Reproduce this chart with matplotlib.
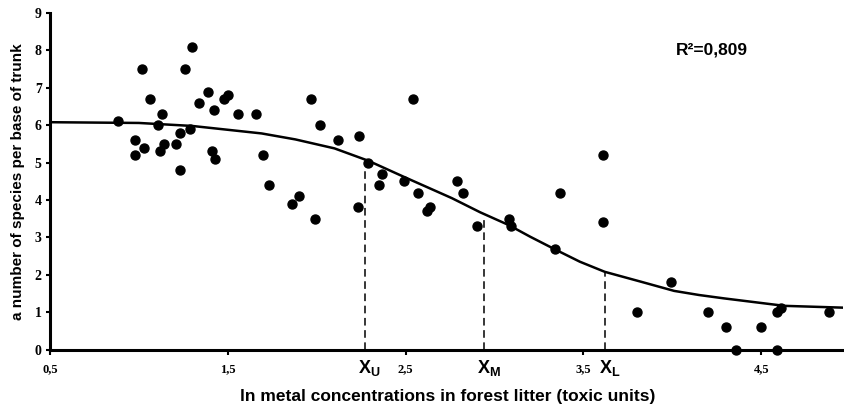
"""Species richness at the base of trunks against ln metal load in forest litter."""

import matplotlib
matplotlib.use("Agg")
import matplotlib.pyplot as plt

plt.rcParams["font.family"] = ["Liberation Sans", "DejaVu Sans"]
plt.rcParams["mathtext.fontset"] = "custom"
plt.rcParams["mathtext.rm"] = "Liberation Sans"
plt.rcParams["mathtext.bf"] = "Liberation Sans:bold"

# observed sites: ln toxic units vs species count
TOXIC_UNITS = [
    0.88, 1.30, 1.02, 1.26, 1.06, 1.39, 1.50, 1.48, 1.34, 1.42,
    1.56, 1.66, 1.13, 1.11, 1.23, 1.29, 0.98, 1.03, 0.98, 1.14,
    1.12, 1.21, 1.41, 1.43, 1.23, 1.70, 1.73, 1.86, 1.90, 1.99,
    2.23, 1.97, 2.54, 2.02, 2.12, 2.24, 2.29, 2.37, 2.35, 2.49,
    2.57, 2.79, 2.82, 2.64, 2.62, 2.90, 3.08, 3.09, 3.34, 3.37,
    3.61, 3.61, 3.99, 3.80, 4.20, 4.30, 4.50, 4.59, 4.61, 4.88,
    4.36, 4.59,
]
SPECIES = [
    6.1, 8.1, 7.5, 7.5, 6.7, 6.9, 6.8, 6.7, 6.6, 6.4,
    6.3, 6.3, 6.3, 6.0, 5.8, 5.9, 5.6, 5.4, 5.2, 5.5,
    5.3, 5.5, 5.3, 5.1, 4.8, 5.2, 4.4, 3.9, 4.1, 3.5,
    3.8, 6.7, 6.7, 6.0, 5.6, 5.7, 5.0, 4.7, 4.4, 4.5,
    4.2, 4.5, 4.2, 3.8, 3.7, 3.3, 3.5, 3.3, 2.7, 4.2,
    5.2, 3.4, 1.8, 1.0, 1.0, 0.6, 0.6, 1.0, 1.1, 1.0,
    0.0, 0.0,
]

# fitted curve
FIT_X = [0.50, 0.75, 1.00, 1.30, 1.69, 1.88, 2.10, 2.29, 2.49, 2.76,
         2.92, 3.08, 3.20, 3.34, 3.48, 3.62, 3.82, 4.01, 4.15, 4.29,
         4.63, 4.97]
FIT_Y = [6.08, 6.07, 6.06, 5.98, 5.78, 5.62, 5.38, 5.05, 4.62, 4.05,
         3.67, 3.33, 3.02, 2.68, 2.35, 2.08, 1.82, 1.57, 1.46, 1.37,
         1.17, 1.12]

# threshold markers (upper, median, lower)
THRESH_X = [2.27, 2.94, 3.62]
THRESH_TOP = [4.85, 3.47, 2.05]
THRESH_LABELS = [r"$\mathbf{X_U}$", r"$\mathbf{X_M}$", r"$\mathbf{X_L}$"]

X_TICKS = [0.5, 1.5, 2.5, 3.5, 4.5]
X_TICKLABELS = ["0,5", "1,5", "2,5", "3,5", "4,5"]
Y_TICKS = list(range(10))

fig = plt.figure(figsize=(8.45, 4.07), dpi=100)
ax = fig.add_axes([50 / 845, 57.4 / 407, 793 / 845, 336.6 / 407])

ax.plot(FIT_X, FIT_Y, color="black", linewidth=1.8, zorder=2)
ax.scatter(TOXIC_UNITS, SPECIES, s=42, color="black", zorder=3, clip_on=False)
ax.vlines(THRESH_X, 0, THRESH_TOP, colors="black", linewidth=1.1,
          linestyles=(0, (5, 3)), zorder=1)

for x, label in zip(THRESH_X, THRESH_LABELS):
    ax.annotate(label, xy=(x, 0), xycoords=("data", "axes fraction"),
                xytext=(3.5, -13), textcoords="offset points",
                ha="center", va="center", fontsize=13)

ax.set_xlim(0.5, 4.96)
ax.set_ylim(0, 9)
ax.set_xticks(X_TICKS)
ax.set_xticklabels(X_TICKLABELS)
ax.set_yticks(Y_TICKS)

for side in ("top", "right"):
    ax.spines[side].set_visible(False)
for side in ("left", "bottom"):
    ax.spines[side].set_linewidth(2.2)

ax.tick_params(axis="x", direction="out", length=3.5, width=1.5, pad=6)
ax.tick_params(axis="y", direction="out", length=3, width=1.5, pad=3)
for lab in ax.get_xticklabels():
    lab.set_fontfamily("Liberation Serif")
    lab.set_fontweight("bold")
    lab.set_fontsize(9)
for lab in ax.get_yticklabels():
    lab.set_fontfamily("Liberation Serif")
    lab.set_fontweight("bold")
    lab.set_fontsize(10)

fig.text(18 / 845, 1 - 181.5 / 407, "a number of species per base of trunk",
         rotation=90, ha="center", va="center", fontsize=11, fontweight="bold")
fig.text(447.5 / 845, 1 - 397 / 407,
         "ln metal concentrations in forest litter (toxic units)",
         ha="center", va="center", fontsize=12.5, fontweight="bold")
fig.text(712 / 845, 1 - 50 / 407, "R²=0,809", ha="center", va="center",
         fontsize=12.5, fontweight="bold")

fig.savefig("out.png", dpi=100)
